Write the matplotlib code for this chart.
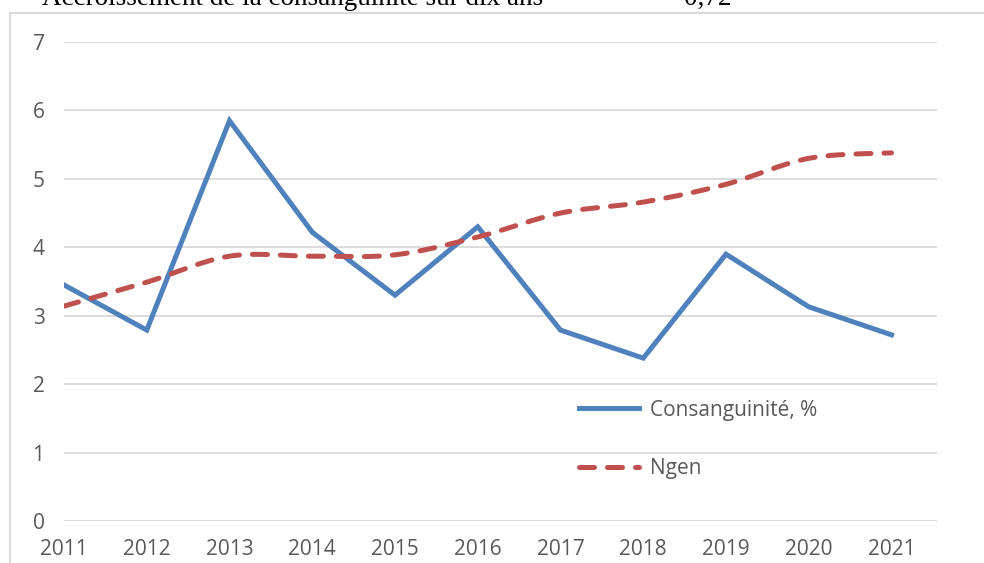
import numpy as np
import matplotlib
matplotlib.use('Agg')
from matplotlib import pyplot as plt
from matplotlib.patches import Rectangle

years = [2011, 2012, 2013, 2014, 2015, 2016, 2017, 2018, 2019, 2020, 2021]
consang = [3.45, 2.79, 5.85, 4.22, 3.30, 4.30, 2.79, 2.38, 3.90, 3.13, 2.72]
ngen = [3.14, 3.49, 3.87, 3.87, 3.89, 4.15, 4.50, 4.66, 4.92, 5.30, 5.38]
labels = ['Consanguinité, %', 'Ngen']


def smooth(x, y, n=30):
    # courbe lissée type Excel (Catmull-Rom)
    x = np.asarray(x, float)
    y = np.asarray(y, float)
    px = np.concatenate([[x[0]], x, [x[-1]]])
    py = np.concatenate([[y[0]], y, [y[-1]]])
    xs, ys = [], []
    t = np.linspace(0, 1, n)
    for i in range(1, len(px) - 2):
        for p, out in ((px, xs), (py, ys)):
            p0, p1, p2, p3 = p[i - 1], p[i], p[i + 1], p[i + 2]
            c1 = p1 + (p2 - p0) / 6
            c2 = p2 - (p3 - p1) / 6
            out.extend((1 - t) ** 3 * p1 + 3 * (1 - t) ** 2 * t * c1
                       + 3 * (1 - t) * t ** 2 * c2 + t ** 3 * p2)
    return np.array(xs), np.array(ys)


plt.rcParams['font.family'] = ['Open Sans', 'DejaVu Sans']

fig = plt.figure(figsize=(9.84, 5.63), dpi=100)
ax = fig.add_axes([64 / 984, 42 / 563, (937 - 64) / 984, (521 - 42) / 563])

ax.plot(years, consang, color='#4f81bd', lw=3.6, label=labels[0],
        solid_joinstyle='miter')
sx, sy = smooth(years, ngen)
ax.plot(sx, sy, color='#c0504d', lw=3.6, ls=(0, (3.0, 2.6)),
        dash_capstyle='round', label=labels[1])

ax.set_xlim(2011, 2021.55)
ax.set_ylim(0, 7)
ax.set_yticks(range(0, 8))
ax.set_xticks(years)
ax.grid(axis='y', color='#d9d9d9', lw=1.3)
ax.set_axisbelow(True)
for s in ax.spines.values():
    s.set_visible(False)
ax.tick_params(length=0, labelsize=15, colors='#595959')
ax.tick_params(axis='y', pad=14)
ax.tick_params(axis='x', pad=13)

ax.legend(loc='upper left', bbox_to_anchor=(0.578, 0.275), frameon=False,
          fontsize=15, labelcolor='#595959', handlelength=2.9,
          handletextpad=0.5, labelspacing=1.8, borderpad=0)

# cadre du graphique
fig.patches.append(Rectangle((10 / 984, -0.1), 1.2, (563 - 13) / 563 + 0.1,
                             transform=fig.transFigure, fill=False,
                             edgecolor='#d9d9d9', lw=1.5))

# texte coupé au-dessus (comme dans l'original)
fig.text(42 / 984, 1 - 5 / 563, 'Accroissement de la consanguinité sur dix ans',
         family='Liberation Serif', fontsize=19.5, va='baseline')
fig.text(684 / 984, 1 - 5 / 563, '0,72', family='Liberation Serif',
         fontsize=19.5, va='baseline')

fig.savefig('out.png', dpi=100)
